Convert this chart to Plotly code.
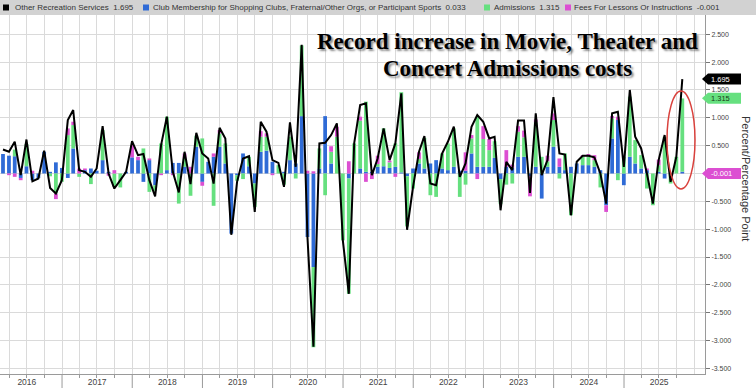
import plotly.graph_objects as go
import pandas as pd

# ---------------- data ----------------
other_rec = [0.43, 0.39, 0.57, -0.03, 0.61, -0.14, -0.09, 0.41, -0.26, -0.36,
             -0.12, 0.96, 1.14, 0.06, 0.03, -0.06, 0.09, 0.85, 0.00, -0.27,
             -0.12, 0.03, 0.58, 0.33, 0.35, -0.12, -0.41, 0.51, 1.02, 0.03,
             -0.34, 0.39, -0.19, 0.73, 0.36, 0.27, -0.18, 0.82, 0.63, -1.10,
             -0.15, 0.27, 0.31, -0.69, 0.93, 0.75, 0.24, 0.19, -0.24, 0.92,
             0.12, 2.31, -1.14, -3.11, 0.54, 0.55, 0.69, 0.90, -1.20, -2.16,
             0.54, 1.23, 1.26, -0.03, 0.27, 0.81, 0.24, 0.54, 1.44, -1.01,
             -0.24, 0.39, 0.67, -0.18, -0.21, 0.36, 0.57, 0.84, -0.06, 0.18,
             0.84, 1.05, 0.93, 0.63, 0.66, -0.66, 0.21, 0.06, 0.95, 0.95,
             -0.35, 1.08, -0.03, 0.24, 1.37, 0.36, 0.34, -0.75, 0.21, 0.32,
             0.32, 0.29, 0.00, -0.54, 1.08, 1.11, 0.12, 1.50, 0.66, 0.45,
             0.00, -0.54, 0.24, 0.69, -0.15, 0.30, 1.695]

club = [0.35, 0.32, 0.31, -0.08, 0.13, -0.12, -0.08, 0.39, 0.03, 0.20,
        0.10, -0.08, 0.45, 0.00, 0.06, 0.09, 0.05, 0.24, 0.03, 0.00,
        0.00, 0.03, 0.29, 0.24, -0.15, 0.24, -0.21, 0.00, 0.06, 0.19,
        0.19, 0.12, 0.00, 0.48, -0.15, 0.21, 0.30, 0.48, 0.18, -1.08,
        -0.03, 0.36, 0.13, -0.18, 0.39, 0.41, 0.21, 0.00, 0.03, 0.24,
        0.18, 1.03, -1.14, -1.68, 0.09, 1.03, 0.18, 0.00, 0.00, -0.09,
        0.00, 0.09, 0.03, 0.03, 0.12, 0.13, 0.10, 0.12, 0.02, -0.05,
        0.09, 0.18, 0.09, 0.18, 0.24, 0.09, 0.06, 0.12, 0.05, 0.05,
        0.36, 0.12, 0.12, 0.12, 0.28, -0.10, 0.12, 0.10, 0.30, 0.30,
        -0.05, 0.12, -0.45, 0.12, 0.48, 0.12, 0.06, 0.12, 0.18, 0.15,
        0.15, 0.12, 0.06, -0.57, 0.63, 0.96, -0.21, 0.30, 0.18, 0.09,
        0.06, 0.00, 0.03, -0.09, 0.00, 0.00, 0.033]

admissions = [0.00, 0.00, 0.12, 0.00, 0.40, 0.00, 0.00, 0.00, -0.05, -0.36,
              -0.15, 0.69, 0.42, -0.06, 0.00, -0.19, 0.00, 0.54, 0.00, -0.24,
              -0.25, 0.00, 0.00, 0.00, 0.45, -0.33, -0.10, 0.54, 0.96, 0.00,
              -0.54, 0.15, -0.40, 0.20, 0.63, 0.00, -0.58, 0.24, 0.36, 0.00,
              -0.10, -0.10, 0.17, -0.42, 0.27, 0.25, 0.00, 0.15, -0.20, 0.42,
              -0.09, 1.27, 0.00, -1.44, 0.36, -0.39, 0.21, 0.66, -1.20, -2.07,
              0.54, 0.86, 1.26, 0.00, 0.05, 0.68, 0.10, 0.42, 1.44, -0.90,
              -0.27, 0.08, 0.55, -0.39, -0.42, 0.27, 0.48, 0.69, -0.42, -0.20,
              0.27, 0.90, 0.50, 0.30, 0.30, -0.45, -0.20, -0.18, 0.45, 0.35,
              0.00, 0.80, 0.30, 0.10, 0.48, -0.09, 0.30, -0.75, 0.00, 0.15,
              0.15, 0.12, -0.25, 0.00, 0.36, -0.12, 0.30, 1.08, 0.42, 0.24,
              -0.27, -0.57, 0.12, 0.66, -0.18, 0.30, 1.315]

fees = [0.00, -0.03, -0.06, -0.04, 0.00, 0.05, 0.00, 0.00, 0.00, -0.10,
        0.00, 0.12, 0.06, 0.09, 0.03, 0.00, 0.00, 0.00, -0.04, 0.06,
        0.00, 0.00, 0.22, 0.06, 0.00, 0.03, 0.00, -0.03, 0.00, -0.03,
        0.00, 0.09, 0.12, 0.00, -0.07, 0.00, 0.06, 0.06, 0.00, 0.00,
        0.00, 0.00, 0.00, 0.00, 0.10, 0.06, -0.03, 0.00, 0.00, 0.00,
        0.00, 0.00, 0.05, 0.04, 0.00, 0.00, 0.10, 0.18, 0.00, 0.22,
        0.00, 0.07, -0.15, -0.10, 0.15, 0.00, 0.03, -0.06, 0.00, 0.00,
        0.00, 0.12, 0.00, 0.00, 0.00, 0.00, 0.00, 0.00, 0.00, 0.33,
        0.06, -0.10, 0.23, 0.20, 0.00, 0.00, 0.30, 0.06, 0.10, 0.12,
        -0.36, 0.05, 0.00, 0.10, 0.12, 0.15, 0.00, 0.00, 0.00, 0.03,
        0.05, 0.09, 0.00, -0.12, 0.04, 0.06, 0.00, 0.00, 0.00, 0.00,
        0.03, 0.00, 0.10, 0.00, 0.00, 0.00, -0.001]

first_month = "2016-02-01"
dates = pd.date_range(first_month, periods=len(other_rec), freq="MS") + pd.offsets.MonthEnd(0)

series_names = ["Other Recreation Services",
                "Club Membership for Shopping Clubs, Fraternal/Other Orgs, or Participant Sports",
                "Admissions",
                "Fees For Lessons Or Instructions"]
title_lines = ["Record increase in Movie, Theater and", "Concert Admissions costs"]
y_title = "Percent/Percentage Point"
y_ticks = [-3.5, -3.0, -2.5, -2.0, -1.5, -1.0, -0.5, 0.0, 0.5, 1.0, 1.5, 2.0, 2.5]

# ---------------- styling ----------------
W, H = 756, 388
ML, MR, MT, MB = 0, 51, 15, 14
PW, PH = W - ML - MR, H - MT - MB

C_BLUE = "#2f6bd6"
C_GREEN = "#66e07f"
C_MAG = "#dc4fd2"
GRID = "#dadada"
FONT = "Liberation Sans"


def xp(px):
    return (px - ML) / PW


def yp(py):
    return (H - MB - py) / PH


fig = go.Figure()
fig.add_trace(go.Bar(x=dates, y=club, marker_color=C_BLUE, marker_line_width=0, name=series_names[1]))
fig.add_trace(go.Bar(x=dates, y=admissions, marker_color=C_GREEN, marker_line_width=0, name=series_names[2]))
fig.add_trace(go.Bar(x=dates, y=fees, marker_color=C_MAG, marker_line_width=0, name=series_names[3]))
fig.add_trace(go.Scatter(x=dates, y=other_rec, mode="lines", line=dict(color="black", width=2),
                         name=series_names[0]))

y_range = [-3.60, 2.846]
x_range = ["2016-02-13 10:00", "2026-02-26"]

# the 0.000 label sits under the last-value tag in the reference
y_ticktext = ["" if v == 0 else f"{v:.3f}" for v in y_ticks]

fig.update_layout(
    width=W, height=H,
    margin=dict(l=ML, r=MR, t=MT, b=MB, autoexpand=False),
    paper_bgcolor="white", plot_bgcolor="white",
    barmode="relative", bargap=0.3,
    showlegend=False,
    font=dict(family=FONT, color="#444"),
    xaxis=dict(type="date", range=x_range, dtick="M12", tick0="2016-01-01",
               ticklabelmode="period", tickformat="%Y", ticks="", showgrid=True,
               gridcolor=GRID, gridwidth=1, showline=True, linecolor="#9a9a9a", linewidth=1,
               tickfont=dict(size=8.5, color="#444"), automargin=False,
               minor=dict(dtick="M3", showgrid=True, gridcolor=GRID, ticks="outside",
                          ticklen=3, tickcolor="#9a9a9a"),
               zeroline=False, fixedrange=True),
    yaxis=dict(side="right", range=y_range, tickvals=y_ticks, ticktext=y_ticktext,
               ticks="outside", ticklen=4, tickcolor="#777", showgrid=True, gridcolor=GRID,
               showline=True, linecolor="#9a9a9a", linewidth=1, zeroline=False,
               tickfont=dict(size=7, color="#444"), fixedrange=True, automargin=False),
)

shapes = []
# legend band
shapes.append(dict(type="rect", xref="paper", yref="paper", x0=xp(0), x1=xp(W), y0=yp(15), y1=yp(0),
                   fillcolor="#d2d2d2", line_width=0, layer="above"))
# year separators on the date axis
for yr in range(2017, 2026):
    shapes.append(dict(type="line", xref="x", yref="paper", x0=f"{yr}-01-01", x1=f"{yr}-01-01",
                       y0=0, y1=yp(H), line=dict(color="#9a9a9a", width=1)))
# red ellipse highlight
shapes.append(dict(type="circle", xref="paper", yref="paper", x0=xp(667), x1=xp(695),
                   y0=yp(189), y1=yp(91), line=dict(color="#d9413c", width=1.5)))

annotations = []
# legend items
legend_items = [
    (series_names[0], other_rec[-1], "black", 3, 13),
    (series_names[1], club[-1], C_BLUE, 143, 151),
    (series_names[2], admissions[-1], C_GREEN, 484, 492),
    (series_names[3], fees[-1], C_MAG, 565, 572),
]
for name, val, col, sx, tx in legend_items:
    shapes.append(dict(type="rect", xref="paper", yref="paper", x0=xp(sx), x1=xp(sx + 6),
                       y0=yp(10.5), y1=yp(4.5), fillcolor=col, line_width=0, layer="above"))
    annotations.append(dict(xref="paper", yref="paper", x=xp(tx), y=yp(7.5), xanchor="left",
                            yanchor="middle", showarrow=False,
                            text=f"{name}  {val:.3f}",
                            font=dict(family=FONT, size=8, color="#333")))

# title with drop shadow
title_y = [42, 68]
for line_txt, ty in zip(title_lines, title_y):
    annotations.append(dict(xref="paper", yref="paper", x=xp(507), y=yp(ty), xanchor="center",
                            yanchor="middle", showarrow=False, text=f"<b>{line_txt}</b>",
                            font=dict(family="Liberation Serif", size=23, color="black",
                                      shadow="2px 2px 2px rgba(0,0,0,0.45)")))

# last-value tags on the right axis
tags = [(other_rec[-1], "black", "white", 0),
        (admissions[-1], C_GREEN, "#1a3a1a", 2),
        (fees[-1], C_MAG, "white", 0)]
unit_per_px = (y_range[1] - y_range[0]) / PH
for val, bg, fg, shift in tags:
    yc = val + shift * unit_per_px
    hh = 5.5 * unit_per_px
    x0, x1, x2 = xp(702), xp(708), xp(741)
    shapes.append(dict(type="path", xref="paper", yref="y",
                       path=f"M {x0},{yc} L {x1},{yc + hh} L {x2},{yc + hh} L {x2},{yc - hh} L {x1},{yc - hh} Z",
                       fillcolor=bg, line_width=0, layer="above"))
    annotations.append(dict(xref="paper", yref="y", x=xp(709), y=yc, xanchor="left", yanchor="middle",
                            showarrow=False, text=f"{val:.3f}",
                            font=dict(family=FONT, size=7.5, color=fg)))

# right axis title
annotations.append(dict(xref="paper", yref="paper", x=xp(746), y=yp(178), xanchor="center",
                        yanchor="middle", showarrow=False, textangle=90, text=y_title,
                        font=dict(family=FONT, size=11, color="#333")))

fig.update_layout(shapes=shapes, annotations=annotations)
fig.write_html("out.html", config={"displayModeBar": False, "staticPlot": True},
               post_script="document.body.style.margin='0px';document.body.style.overflow='hidden';")
